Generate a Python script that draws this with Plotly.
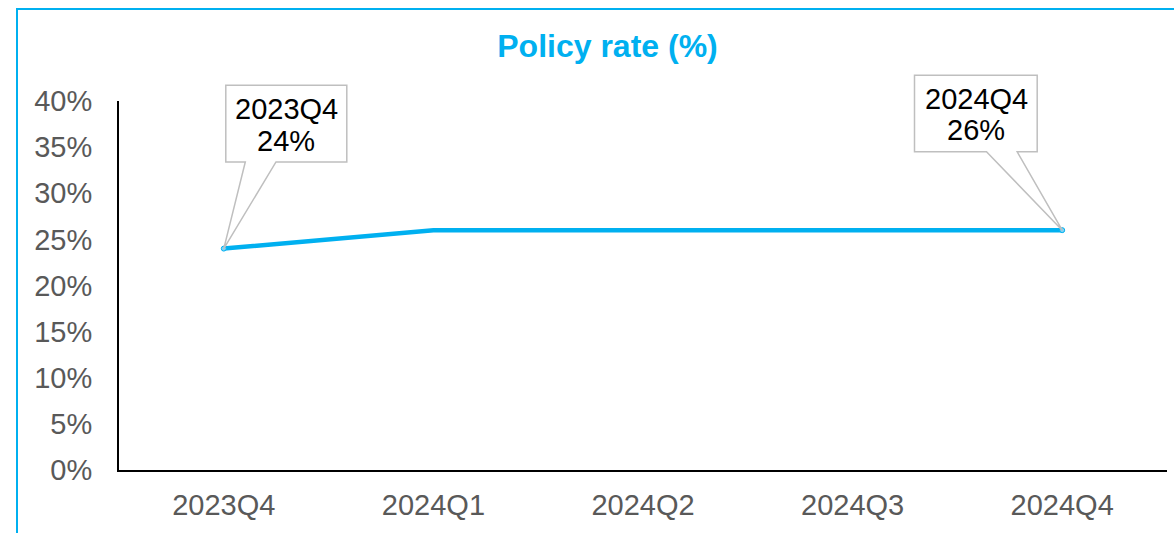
import plotly.graph_objects as go

quarters = ["2023Q4", "2024Q1", "2024Q2", "2024Q3", "2024Q4"]
rates = [24, 26, 26, 26, 26]
y_ticks = [0, 5, 10, 15, 20, 25, 30, 35, 40]
y_tick_labels = [f"{t}%" for t in y_ticks]
title_text = "Policy rate (%)"

CYAN = "#00B0F0"
GREY = "#BFBFBF"
TICK = "#595959"
FONT = "Liberation Sans, Arial, sans-serif"

W, H = 1174, 533
L, R, T, B = 119, 7, 101, 63
PW, PH = W - L - R, H - T - B
Y_MAX = 40
N = len(quarters)

fig = go.Figure()
fig.add_trace(go.Scatter(
    x=quarters, y=rates, mode="lines",
    line=dict(color=CYAN, width=4.5),
    hoverinfo="skip", showlegend=False,
))
ends = [0, N - 1]
fig.add_trace(go.Scatter(
    x=[quarters[i] for i in ends], y=[rates[i] for i in ends], mode="markers",
    marker=dict(size=5, color="#7FD3F5", line=dict(color=CYAN, width=1)),
    hoverinfo="skip", showlegend=False,
))

# callout geometry (pixel offsets from the data point, y up)
callouts = [
    dict(idx=0, left=2, right=123, bottom=86.7, top=163.4, w0=21.5, w1=52.2,
         tx=62.5, ty1=139.7, ty2=107.7),
    dict(idx=4, left=-147.7, right=-25, bottom=78.3, top=155, w0=-75.7, w1=-45,
         tx=-86, ty1=131, ty2=100),
]
shapes = []
annotations = []
for c in callouts:
    i = c["idx"]
    path = (f"M {c['left']},{c['bottom']} L {c['w0']},{c['bottom']} L 0,0 "
            f"L {c['w1']},{c['bottom']} L {c['right']},{c['bottom']} "
            f"L {c['right']},{c['top']} L {c['left']},{c['top']} Z")
    shapes.append(dict(
        type="path", xref="paper", yref="paper", xsizemode="pixel", ysizemode="pixel",
        xanchor=(i + 0.5) / N, yanchor=rates[i] / Y_MAX, path=path,
        fillcolor="white", line=dict(color=GREY, width=1.5), layer="above",
    ))
    for txt, dy in [(quarters[i], c["ty1"]), (f"{rates[i]}%", c["ty2"])]:
        annotations.append(dict(
            x=quarters[i], y=rates[i], xref="x", yref="y", text=txt,
            showarrow=False, xshift=c["tx"], yshift=dy,
            xanchor="center", yanchor="middle",
            font=dict(family=FONT, size=29, color="black"),
        ))

# outer border
shapes.append(dict(
    type="rect", xref="paper", yref="paper", layer="above",
    x0=(17 - L) / PW, x1=(W + 10 - L) / PW,
    y0=-(B + 10) / PH, y1=(H - B - 9) / PH,
    line=dict(color=CYAN, width=2), fillcolor="rgba(0,0,0,0)",
))

fig.update_layout(
    width=W, height=H,
    margin=dict(l=L, r=R, t=T, b=B, pad=0),
    paper_bgcolor="white", plot_bgcolor="white",
    font=dict(family=FONT, size=29, color=TICK),
    title=dict(text=f"<b>{title_text}</b>", x=607.5 / W, xref="container",
               xanchor="center", y=1 - 46 / H, yref="container", yanchor="middle",
               font=dict(family=FONT, size=32, color=CYAN)),
    shapes=shapes, annotations=annotations,
    showlegend=False,
)
fig.update_xaxes(
    type="category", range=[-0.5, N - 0.5], automargin=False,
    showgrid=False, zeroline=False, showline=True, linecolor="black", linewidth=2,
    ticks="", tickfont=dict(family=FONT, size=29, color=TICK),
    ticklabelstandoff=8,
)
fig.update_yaxes(
    range=[0, Y_MAX], tickvals=y_ticks, ticktext=y_tick_labels, automargin=False,
    showgrid=False, zeroline=False, showline=True, linecolor="black", linewidth=2,
    ticks="", tickfont=dict(family=FONT, size=29, color=TICK),
    ticklabelstandoff=19,
)

fig.write_html("out.html", config={"displayModeBar": False},
               post_script="document.body.style.margin='0px';")
